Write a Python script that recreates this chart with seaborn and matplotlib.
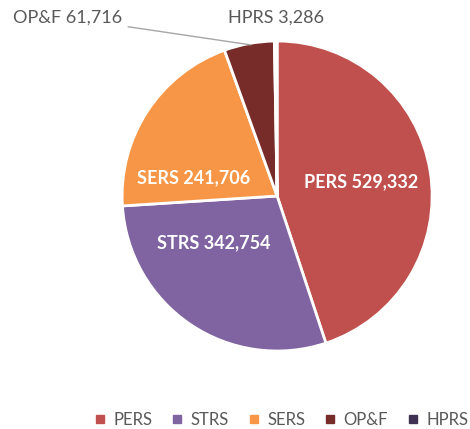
import matplotlib
matplotlib.use("Agg")
import matplotlib.pyplot as plt
from matplotlib.lines import Line2D
import seaborn as sns

# -------------------------------------------------
# DATA
# -------------------------------------------------

systems = ["PERS", "STRS", "SERS", "OP&F", "HPRS"]
members = [529332, 342754, 241706, 61716, 3286]
colors = ["#C0504D", "#8064A2", "#F79646", "#772C2A", "#3F3151"]

sns.set_theme(style="white")
plt.rcParams["font.family"] = ["Lato", "DejaVu Sans"]

fig = plt.figure(figsize=(4.7, 4.29), dpi=100)
ax = fig.add_axes([0.2596, 0.1818, 0.66, 0.7226])

wedges, _ = ax.pie(
    members,
    colors=colors,
    startangle=90,
    counterclock=False,
    wedgeprops=dict(edgecolor="white", linewidth=2),
)
ax.set_xlim(-1, 1)
ax.set_ylim(-1, 1)
ax.set_aspect("equal")


def lab(i):
    return f"{systems[i]} {members[i]:,}"


# inside labels
inside = {0: (0.54, 0.09), 1: (-0.41, -0.30), 2: (-0.54, 0.12)}
for i, (x, y) in inside.items():
    ax.text(x, y, lab(i), color="white", fontsize=13, fontweight="bold",
            ha="center", va="center")

# outside labels
ax.annotate(lab(3), xy=(-0.17, 0.975), xytext=(-1.0, 1.15),
            ha="right", va="center", fontsize=13, color="#595959",
            arrowprops=dict(arrowstyle="-", color="#A6A6A6", lw=1,
                            shrinkA=2, shrinkB=0),
            annotation_clip=False)
ax.text(-0.01, 1.15, lab(4), ha="center", va="center", fontsize=13,
        color="#595959", clip_on=False)

handles = [Line2D([], [], marker="s", linestyle="", markersize=6,
                  markerfacecolor=c, markeredgecolor=c) for c in colors]
fig.legend(handles, systems, loc="center", bbox_to_anchor=(0.596, 0.022),
           ncol=5, frameon=False, fontsize=12, labelcolor="#595959",
           handletextpad=0.3, columnspacing=1.0, handlelength=1.0,
           borderaxespad=0, borderpad=0)

fig.savefig("out.png", dpi=100)
